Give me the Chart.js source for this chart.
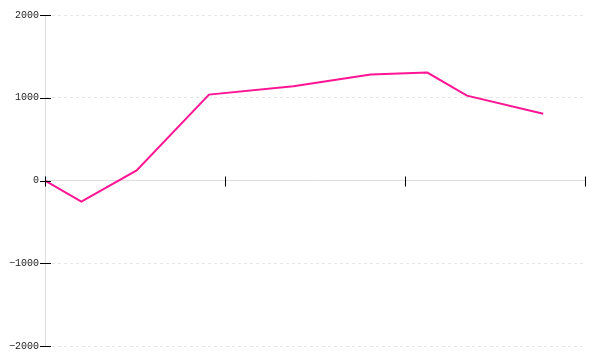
<!DOCTYPE html>
<html>
<head>
<meta charset="utf-8">
<script src="https://cdn.jsdelivr.net/npm/chart.js@4"></script>
<style>
html,body{margin:0;padding:0;background:#fff;}
#wrap{width:600px;height:360px;}
</style>
</head>
<body>
<div id="wrap"><canvas id="c" width="600" height="360"></canvas></div>
<script>
const xValues = [0, 2.02, 5.09, 9.11, 13.8, 18.09, 21.24, 23.44, 27.68];
const yValues = [0, -255, 121, 1038, 1139, 1280, 1304, 1025, 807];
const xTicks = [0, 10, 20, 30];
const yTicks = [-2000, -1000, 0, 1000, 2000];

const points = xValues.map((x, i) => ({x: x, y: yValues[i]}));

const innerTicks = {
  id: 'innerTicks',
  afterDraw(chart) {
    const ctx = chart.ctx;
    const xs = chart.scales.x, ys = chart.scales.y;
    const y0 = ys.getPixelForValue(0);
    const x0 = xs.left;
    ctx.save();
    ctx.strokeStyle = '#000';
    ctx.lineWidth = 1;
    ctx.beginPath();
    xTicks.forEach(v => {
      const px = Math.round(xs.getPixelForValue(v)) + 0.5;
      ctx.moveTo(px, y0 - 4);
      ctx.lineTo(px, y0 + 6);
    });
    yTicks.forEach(v => {
      const py = Math.round(ys.getPixelForValue(v)) + 0.5;
      ctx.moveTo(x0 - 5, py);
      ctx.lineTo(x0 + 6, py);
    });
    ctx.stroke();
    ctx.restore();
  }
};

new Chart(document.getElementById('c'), {
  type: 'line',
  data: {
    datasets: [{
      data: points,
      borderColor: '#ff1493',
      borderWidth: 2,
      pointRadius: 0,
      fill: false,
      tension: 0
    }]
  },
  options: {
    responsive: false,
    animation: false,
    layout: {padding: {top: 15, bottom: 14, right: 15, left: 0}},
    plugins: {legend: {display: false}, tooltip: {enabled: false}},
    scales: {
      x: {
        type: 'linear',
        position: {y: 0},
        min: 0,
        max: 30,
        afterBuildTicks: s => { s.ticks = xTicks.map(v => ({value: v})); },
        ticks: {display: false},
        grid: {drawOnChartArea: false, drawTicks: false},
        border: {display: true, color: '#dddddd', width: 1}
      },
      y: {
        type: 'linear',
        min: -2000,
        max: 2000,
        afterBuildTicks: s => { s.ticks = yTicks.map(v => ({value: v})); },
        afterFit: s => { s.width = 45; },
        ticks: {
          padding: 1,
          color: '#222',
          font: {family: 'Liberation Mono', size: 10},
          callback: v => String(v).replace('-', '\u2212')
        },
        grid: {
          color: '#e6e6e6',
          lineWidth: 1,
          tickLength: 5,
          tickColor: 'transparent',
          drawOnChartArea: true
        },
        border: {display: true, color: '#dddddd', width: 1, dash: [3, 3]}
      }
    }
  },
  plugins: [innerTicks]
});
</script>
</body>
</html>
